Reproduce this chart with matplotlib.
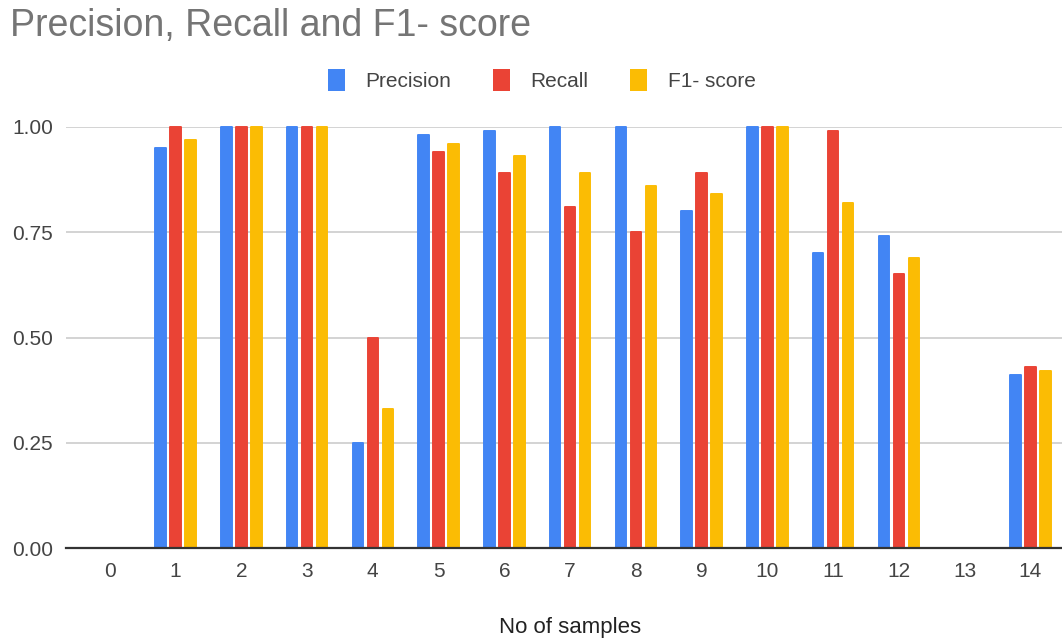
import matplotlib.pyplot as plt
import numpy as np

plt.rcParams['font.family'] = ['Liberation Sans', 'DejaVu Sans']

samples = list(range(15))
precision = [0, 0.95, 1.00, 1.00, 0.25, 0.98, 0.99, 1.00, 1.00, 0.80, 1.00, 0.70, 0.74, 0, 0.41]
recall = [0, 1.00, 1.00, 1.00, 0.50, 0.94, 0.89, 0.81, 0.75, 0.89, 1.00, 0.99, 0.65, 0, 0.43]
f1 = [0, 0.97, 1.00, 1.00, 0.33, 0.96, 0.93, 0.89, 0.86, 0.84, 1.00, 0.82, 0.69, 0, 0.42]

series = [("Precision", precision, "#4285F4"),
          ("Recall", recall, "#EA4335"),
          ("F1- score", f1, "#FBBC04")]

fig = plt.figure(figsize=(10.62, 6.4), dpi=100)
ax = fig.add_axes([66 / 1062, 1 - 548 / 640, 1 - 66 / 1062, (548 - 127) / 640])

x = np.arange(len(samples))
step = 0.228
width = 0.160
for i, (name, vals, color) in enumerate(series):
    bars = ax.bar(x + (i - 1) * step, vals, width, color=color, label=name,
                  edgecolor=color, linewidth=1.4, zorder=3, clip_on=False)
    for b, v in zip(bars, vals):
        b.set_joinstyle('round')
        if v == 0:
            b.set_linewidth(0)

ax.set_xlim(-0.665, 14.48)
ax.set_ylim(0, 1.0)
ax.set_yticks([0, 0.25, 0.5, 0.75, 1.0])
ax.set_yticklabels(["0.00", "0.25", "0.50", "0.75", "1.00"])
ax.set_xticks(x)
ax.set_xticklabels([str(s) for s in samples])
ax.yaxis.grid(True, color="#d0d0d0", linewidth=1.3, zorder=0)
ax.set_axisbelow(True)
for side in ["top", "right", "left"]:
    ax.spines[side].set_visible(False)
ax.spines["bottom"].set_color("#333333")
ax.spines["bottom"].set_linewidth(1.6)
ax.spines["bottom"].set_zorder(4)
ax.tick_params(axis="both", length=0, labelcolor="#444444", labelsize=15)
ax.tick_params(axis="y", pad=9.5)
ax.tick_params(axis="x", pad=10)

fig.text(570 / 1062, 1 - 628 / 640, "No of samples", fontsize=16,
         color="#222222", ha="center", va="center")

fig.text(10 / 1062, 1 - 8 / 640, "Precision, Recall and F1- score",
         fontsize=27, color="#757575", ha="left", va="top")

fig.legend(loc="center", bbox_to_anchor=(542 / 1062, 1 - 80 / 640), ncol=3,
           frameon=False, fontsize=15, handlelength=0.8, handleheight=1.2,
           handletextpad=1.0, columnspacing=2.0, labelcolor="#444444")

fig.savefig("out.png", dpi=100)
